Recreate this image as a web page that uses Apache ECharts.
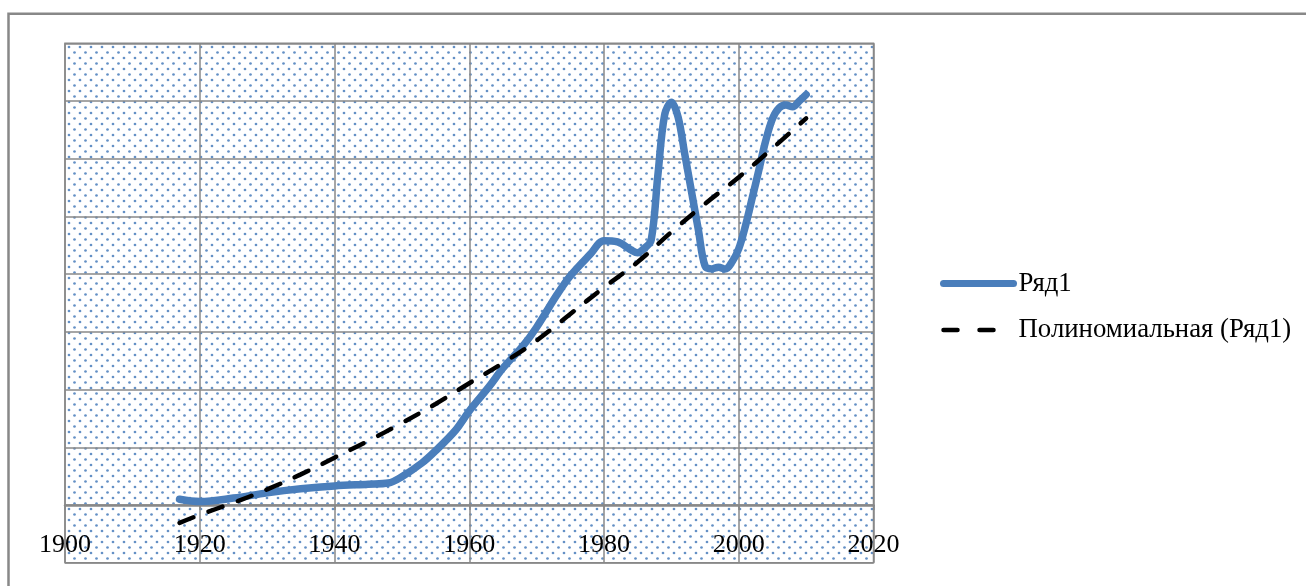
<!DOCTYPE html>
<html>
<head>
<meta charset="utf-8">
<script src="https://cdn.jsdelivr.net/npm/echarts@6/dist/echarts.min.js"></script>
<style>html,body{margin:0;padding:0;background:#fff;}#c{width:1306px;height:586px;}</style>
</head>
<body>
<div id="c"></div>
<script>
// ---- data ----
const seriesName = 'Ряд1';
const trendName = 'Полиномиальная (Ряд1)';
const years = [1917,1920,1925,1930,1935,1940,1945,1948,1950,1953,1955,1958,1960,1963,1965,1968,1970,1973,1975,1978,1980,1982,1984,1985,1986,1987,1988,1989,1990,1991,1992,1993,1994,1995,1996,1997,1998,1999,2000,2001,2002,2003,2004,2005,2006,2007,2008,2009,2010];
const values = [10,6,12,21,28,33,36,38,49,73,94,130,163,206,237,276,308,364,397,435,458,456,442,437,445,459,572,676,698,672,607,542,477,414,409,412,409,421,444,484,532,581,631,669,688,693,690,700,711];
const trendYears = [1917,1920,1925,1930,1935,1940,1945,1950,1955,1960,1965,1970,1975,1980,1985,1990,1995,2000,2005,2010];
const trendValues = [-31,-17,4,27,53,82,111,142,175,211,246,285,331,377,421,473,522,568,618,670];
const xTicks = [1900,1920,1940,1960,1980,2000,2020];

// ---- dotted background pattern ----
const pc = document.createElement('canvas');
pc.width = 11; pc.height = 11;
const g = pc.getContext('2d');
g.fillStyle = '#ffffff'; g.fillRect(0,0,11,11);
g.fillStyle = 'rgba(79,129,189,0.88)';
[[3,3],[8.5,8.5]].forEach(p=>{g.beginPath();g.arc(p[0],p[1],1.35,0,Math.PI*2);g.fill();});

const chart = echarts.init(document.getElementById('c'), null, {renderer:'canvas'});
const grey = '#888888';
const font = "'Liberation Serif','Times New Roman',serif";
chart.setOption({
  animation:false,
  backgroundColor:'#ffffff',
  graphic:[{type:'rect', shape:{x:8.5,y:13.8,width:1400,height:700}, style:{fill:'none', stroke:grey, lineWidth:2.5}, z:-10}],
  grid:{left:65, right:432.5, top:43.3, bottom:23.3, outerBoundsMode:'none', containLabel:false, show:true, backgroundColor:{image:pc, repeat:'repeat'}, borderColor:grey, borderWidth:1.5},
  legend:{
    orient:'vertical', left:940, top:270, padding:0, itemWidth:70, itemHeight:14, itemGap:19.5,
    textStyle:{fontFamily:font, fontSize:26.8, color:'#000', lineHeight:26},
    itemStyle:{opacity:0},
    data:[
      {name:seriesName, itemStyle:{opacity:0}, lineStyle:{width:7, color:'#4a7ebb', cap:'round'}},
      {name:trendName, itemStyle:{opacity:0}, lineStyle:{width:4.5, color:'#000', type:[14,22], cap:'round'}}
    ]
  },
  xAxis:{
    type:'value', min:xTicks[0], max:xTicks[xTicks.length-1], interval:20,
    axisLine:{show:true, onZero:true, lineStyle:{color:grey, width:2.5}},
    axisTick:{show:true, length:5, lineStyle:{color:grey, width:1.5}},
    axisLabel:{fontFamily:font, fontSize:26, color:'#000', margin:-31, formatter:v=>String(v)},
    splitLine:{show:true, lineStyle:{color:grey, width:1.5}}
  },
  yAxis:{
    type:'value', min:-100, max:800, interval:100,
    axisLine:{show:false}, axisTick:{show:false}, axisLabel:{show:false},
    splitLine:{show:true, lineStyle:{color:grey, width:1.5}}
  },
  series:[
    {name:seriesName, type:'line', smooth:0.35, symbol:'none',
     data:years.map((y,i)=>[y,values[i]]),
     lineStyle:{color:'#4a7ebb', width:7.5, cap:'round', join:'round'}, itemStyle:{color:'#4a7ebb'}, z:2},
    {name:trendName, type:'line', smooth:0.4, symbol:'none',
     data:trendYears.map((y,i)=>[y,trendValues[i]]),
     lineStyle:{color:'#000', width:4.5, type:[15,16], cap:'round'}, itemStyle:{color:'#000'}, z:3}
  ]
});
</script>
</body>
</html>
